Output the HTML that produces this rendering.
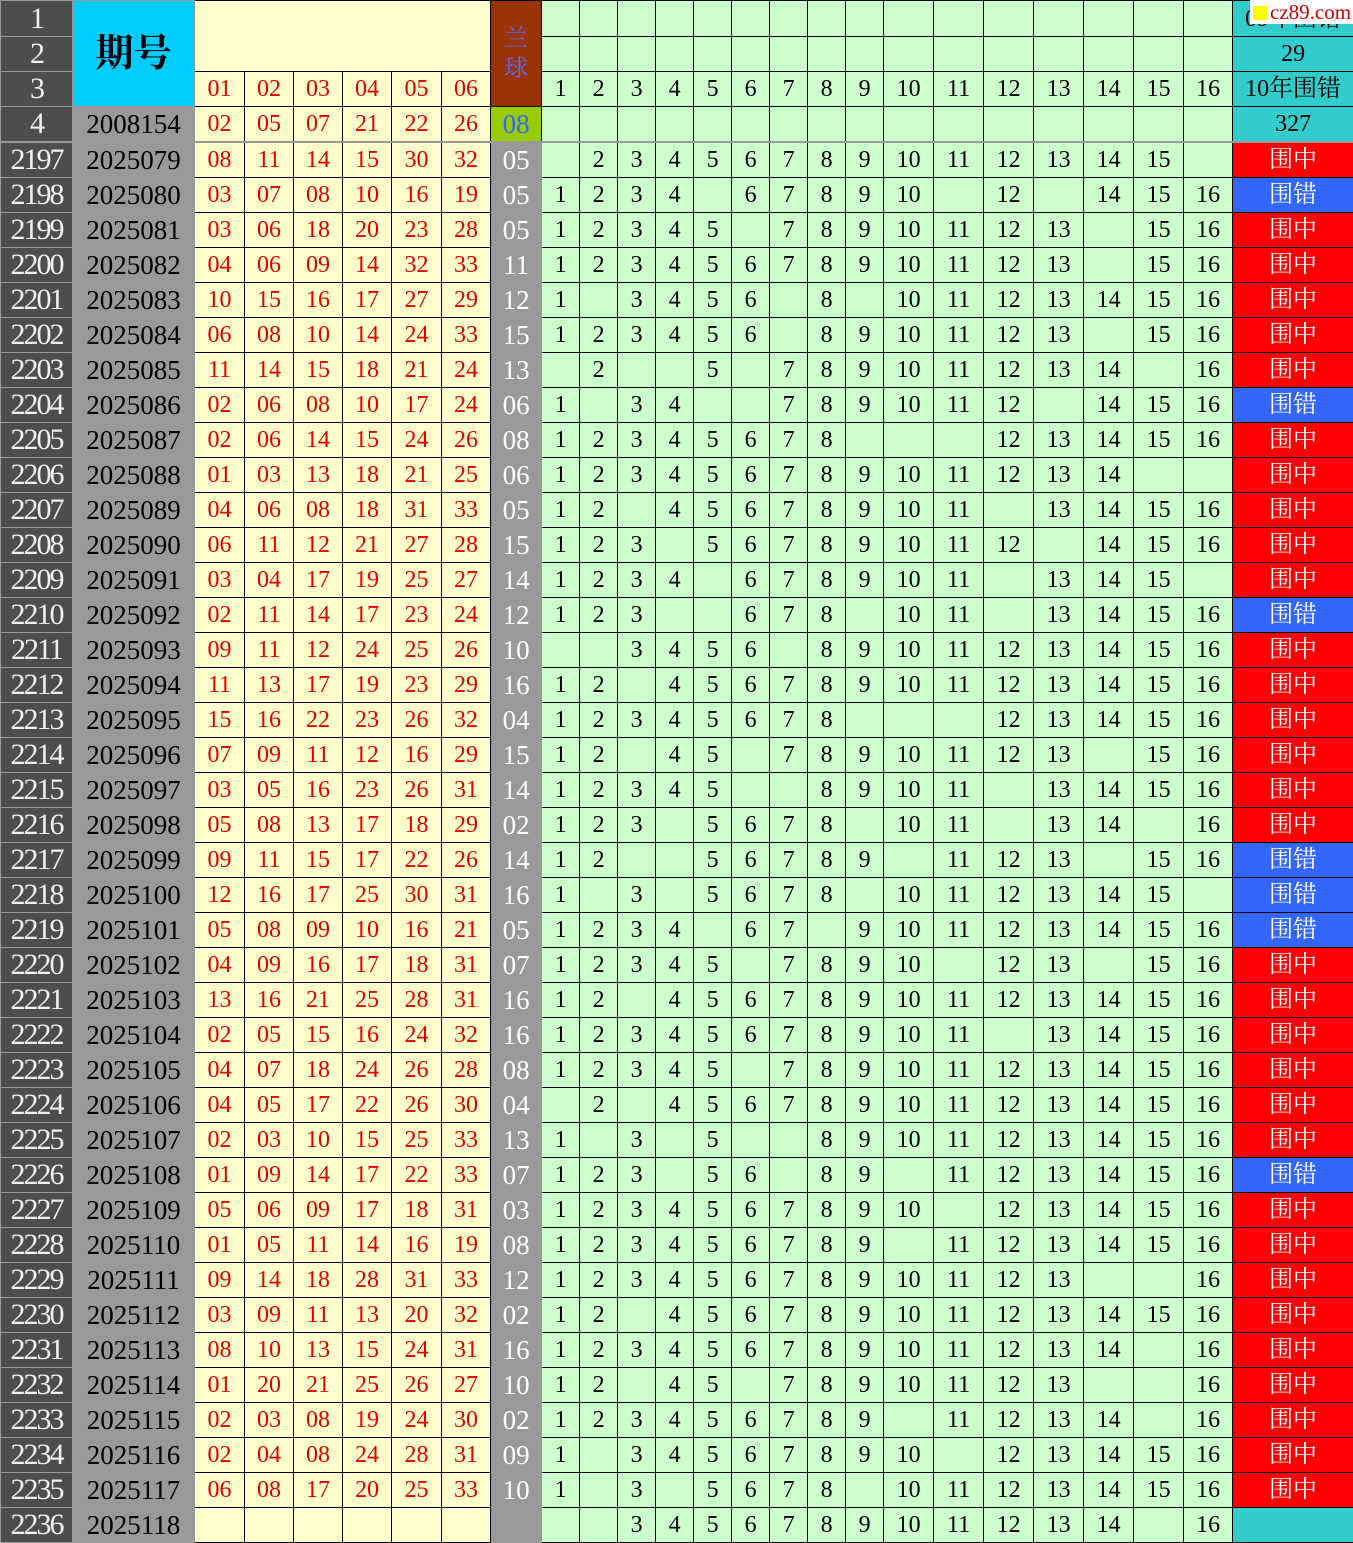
<!DOCTYPE html>
<html><head><meta charset="utf-8"><style>
body{margin:0;background:#fff;overflow:hidden;}
table{border-collapse:collapse;table-layout:fixed;width:1353px;font-family:"Liberation Serif","Noto Serif CJK SC",serif;}
td{border:1px solid #000;padding:0;text-align:center;overflow:hidden;white-space:nowrap;height:34px;line-height:34px;}
tr.h1 td{height:35px;}
.a{background:#4d4d4d;color:#f0f0f0;font-size:30px;border-color:#999;letter-spacing:-2px;}
.b{background:#999;color:#000;font-size:27px;border-color:#999;}
.r{background:#ffffcc;color:#e00000;font-size:24px;}
.g{background:#ccffcc;color:#000;font-size:24px;}
.t{background:#33cccc;color:#000;font-size:24px;}
tbody.d td:nth-child(1){background:#4d4d4d;color:#f0f0f0;font-size:30px;border-color:#999;letter-spacing:-2px;}
tbody.d td:nth-child(2){background:#999;color:#000;font-size:27px;border-color:#999;}
tbody.d td:nth-child(n+3):nth-child(-n+8){background:#ffffcc;color:#e00000;font-size:24px;}
tbody.d td:nth-child(9){background:#999;color:#fff;font-size:27px;border-color:#999;}
tbody.d td:nth-child(n+10):nth-child(-n+25){background:#ccffcc;color:#000;font-size:24px;}
tbody.d td:nth-child(26){background:#33cccc;color:#fff;font-size:24px;}
tbody.d td.z{background:#ff0000;}
tbody.d td.c{background:#3366ff;}
tbody.d tr:first-child td{border-top:2px solid #999;}
.wm{position:absolute;left:1250px;top:0;width:103px;height:24px;background:#fff;font-family:"Liberation Serif",serif;font-size:21px;line-height:24px;color:#c00;}
.wm span{display:inline-block;width:14px;height:14px;background:#ff0;margin:0 3px 0 3px;vertical-align:-1px;}
</style></head><body>
<table>
<colgroup><col style="width:72px"><col style="width:122px"><col style="width:50px"><col style="width:49px"><col style="width:49px"><col style="width:49px"><col style="width:50px"><col style="width:49px"><col style="width:51px"><col style="width:38px"><col style="width:38px"><col style="width:38px"><col style="width:38px"><col style="width:38px"><col style="width:38px"><col style="width:38px"><col style="width:38px"><col style="width:38px"><col style="width:50px"><col style="width:50px"><col style="width:50px"><col style="width:50px"><col style="width:50px"><col style="width:50px"><col style="width:49px"><col style="width:121px"></colgroup>
<tbody>
<tr class="h1"><td class="a">1</td><td rowspan="3" style="background:#00ccff;font-size:38px;font-weight:bold;border-color:#999">期号</td><td class="r" colspan="6" rowspan="2"></td><td rowspan="3" style="background:#993300;color:#6666ff;font-size:24px;line-height:30px;white-space:normal">兰<br>球</td><td class="g"></td><td class="g"></td><td class="g"></td><td class="g"></td><td class="g"></td><td class="g"></td><td class="g"></td><td class="g"></td><td class="g"></td><td class="g"></td><td class="g"></td><td class="g"></td><td class="g"></td><td class="g"></td><td class="g"></td><td class="g"></td><td class="t">09年围错</td></tr>
<tr><td class="a">2</td><td class="g"></td><td class="g"></td><td class="g"></td><td class="g"></td><td class="g"></td><td class="g"></td><td class="g"></td><td class="g"></td><td class="g"></td><td class="g"></td><td class="g"></td><td class="g"></td><td class="g"></td><td class="g"></td><td class="g"></td><td class="g"></td><td class="t">29</td></tr>
<tr><td class="a">3</td><td class="r">01</td><td class="r">02</td><td class="r">03</td><td class="r">04</td><td class="r">05</td><td class="r">06</td><td class="g">1</td><td class="g">2</td><td class="g">3</td><td class="g">4</td><td class="g">5</td><td class="g">6</td><td class="g">7</td><td class="g">8</td><td class="g">9</td><td class="g">10</td><td class="g">11</td><td class="g">12</td><td class="g">13</td><td class="g">14</td><td class="g">15</td><td class="g">16</td><td class="t">10年围错</td></tr>
<tr><td class="a">4</td><td class="b">2008154</td><td class="r">02</td><td class="r">05</td><td class="r">07</td><td class="r">21</td><td class="r">22</td><td class="r">26</td><td style="background:#99cc00;color:#3366ff;font-size:27px">08</td><td class="g"></td><td class="g"></td><td class="g"></td><td class="g"></td><td class="g"></td><td class="g"></td><td class="g"></td><td class="g"></td><td class="g"></td><td class="g"></td><td class="g"></td><td class="g"></td><td class="g"></td><td class="g"></td><td class="g"></td><td class="g"></td><td class="t">327</td></tr>
</tbody>
<tbody class="d">
<tr><td>2197<td>2025079<td>08<td>11<td>14<td>15<td>30<td>32<td>05<td><td>2<td>3<td>4<td>5<td>6<td>7<td>8<td>9<td>10<td>11<td>12<td>13<td>14<td>15<td><td class="z">围中</tr>
<tr><td>2198<td>2025080<td>03<td>07<td>08<td>10<td>16<td>19<td>05<td>1<td>2<td>3<td>4<td><td>6<td>7<td>8<td>9<td>10<td><td>12<td><td>14<td>15<td>16<td class="c">围错</tr>
<tr><td>2199<td>2025081<td>03<td>06<td>18<td>20<td>23<td>28<td>05<td>1<td>2<td>3<td>4<td>5<td><td>7<td>8<td>9<td>10<td>11<td>12<td>13<td><td>15<td>16<td class="z">围中</tr>
<tr><td>2200<td>2025082<td>04<td>06<td>09<td>14<td>32<td>33<td>11<td>1<td>2<td>3<td>4<td>5<td>6<td>7<td>8<td>9<td>10<td>11<td>12<td>13<td><td>15<td>16<td class="z">围中</tr>
<tr><td>2201<td>2025083<td>10<td>15<td>16<td>17<td>27<td>29<td>12<td>1<td><td>3<td>4<td>5<td>6<td><td>8<td><td>10<td>11<td>12<td>13<td>14<td>15<td>16<td class="z">围中</tr>
<tr><td>2202<td>2025084<td>06<td>08<td>10<td>14<td>24<td>33<td>15<td>1<td>2<td>3<td>4<td>5<td>6<td><td>8<td>9<td>10<td>11<td>12<td>13<td><td>15<td>16<td class="z">围中</tr>
<tr><td>2203<td>2025085<td>11<td>14<td>15<td>18<td>21<td>24<td>13<td><td>2<td><td><td>5<td><td>7<td>8<td>9<td>10<td>11<td>12<td>13<td>14<td><td>16<td class="z">围中</tr>
<tr><td>2204<td>2025086<td>02<td>06<td>08<td>10<td>17<td>24<td>06<td>1<td><td>3<td>4<td><td><td>7<td>8<td>9<td>10<td>11<td>12<td><td>14<td>15<td>16<td class="c">围错</tr>
<tr><td>2205<td>2025087<td>02<td>06<td>14<td>15<td>24<td>26<td>08<td>1<td>2<td>3<td>4<td>5<td>6<td>7<td>8<td><td><td><td>12<td>13<td>14<td>15<td>16<td class="z">围中</tr>
<tr><td>2206<td>2025088<td>01<td>03<td>13<td>18<td>21<td>25<td>06<td>1<td>2<td>3<td>4<td>5<td>6<td>7<td>8<td>9<td>10<td>11<td>12<td>13<td>14<td><td><td class="z">围中</tr>
<tr><td>2207<td>2025089<td>04<td>06<td>08<td>18<td>31<td>33<td>05<td>1<td>2<td><td>4<td>5<td>6<td>7<td>8<td>9<td>10<td>11<td><td>13<td>14<td>15<td>16<td class="z">围中</tr>
<tr><td>2208<td>2025090<td>06<td>11<td>12<td>21<td>27<td>28<td>15<td>1<td>2<td>3<td><td>5<td>6<td>7<td>8<td>9<td>10<td>11<td>12<td><td>14<td>15<td>16<td class="z">围中</tr>
<tr><td>2209<td>2025091<td>03<td>04<td>17<td>19<td>25<td>27<td>14<td>1<td>2<td>3<td>4<td><td>6<td>7<td>8<td>9<td>10<td>11<td><td>13<td>14<td>15<td><td class="z">围中</tr>
<tr><td>2210<td>2025092<td>02<td>11<td>14<td>17<td>23<td>24<td>12<td>1<td>2<td>3<td><td><td>6<td>7<td>8<td><td>10<td>11<td><td>13<td>14<td>15<td>16<td class="c">围错</tr>
<tr><td>2211<td>2025093<td>09<td>11<td>12<td>24<td>25<td>26<td>10<td><td><td>3<td>4<td>5<td>6<td><td>8<td>9<td>10<td>11<td>12<td>13<td>14<td>15<td>16<td class="z">围中</tr>
<tr><td>2212<td>2025094<td>11<td>13<td>17<td>19<td>23<td>29<td>16<td>1<td>2<td><td>4<td>5<td>6<td>7<td>8<td>9<td>10<td>11<td>12<td>13<td>14<td>15<td>16<td class="z">围中</tr>
<tr><td>2213<td>2025095<td>15<td>16<td>22<td>23<td>26<td>32<td>04<td>1<td>2<td>3<td>4<td>5<td>6<td>7<td>8<td><td><td><td>12<td>13<td>14<td>15<td>16<td class="z">围中</tr>
<tr><td>2214<td>2025096<td>07<td>09<td>11<td>12<td>16<td>29<td>15<td>1<td>2<td><td>4<td>5<td><td>7<td>8<td>9<td>10<td>11<td>12<td>13<td><td>15<td>16<td class="z">围中</tr>
<tr><td>2215<td>2025097<td>03<td>05<td>16<td>23<td>26<td>31<td>14<td>1<td>2<td>3<td>4<td>5<td><td><td>8<td>9<td>10<td>11<td><td>13<td>14<td>15<td>16<td class="z">围中</tr>
<tr><td>2216<td>2025098<td>05<td>08<td>13<td>17<td>18<td>29<td>02<td>1<td>2<td>3<td><td>5<td>6<td>7<td>8<td><td>10<td>11<td><td>13<td>14<td><td>16<td class="z">围中</tr>
<tr><td>2217<td>2025099<td>09<td>11<td>15<td>17<td>22<td>26<td>14<td>1<td>2<td><td><td>5<td>6<td>7<td>8<td>9<td><td>11<td>12<td>13<td><td>15<td>16<td class="c">围错</tr>
<tr><td>2218<td>2025100<td>12<td>16<td>17<td>25<td>30<td>31<td>16<td>1<td><td>3<td><td>5<td>6<td>7<td>8<td><td>10<td>11<td>12<td>13<td>14<td>15<td><td class="c">围错</tr>
<tr><td>2219<td>2025101<td>05<td>08<td>09<td>10<td>16<td>21<td>05<td>1<td>2<td>3<td>4<td><td>6<td>7<td><td>9<td>10<td>11<td>12<td>13<td>14<td>15<td>16<td class="c">围错</tr>
<tr><td>2220<td>2025102<td>04<td>09<td>16<td>17<td>18<td>31<td>07<td>1<td>2<td>3<td>4<td>5<td><td>7<td>8<td>9<td>10<td><td>12<td>13<td><td>15<td>16<td class="z">围中</tr>
<tr><td>2221<td>2025103<td>13<td>16<td>21<td>25<td>28<td>31<td>16<td>1<td>2<td><td>4<td>5<td>6<td>7<td>8<td>9<td>10<td>11<td>12<td>13<td>14<td>15<td>16<td class="z">围中</tr>
<tr><td>2222<td>2025104<td>02<td>05<td>15<td>16<td>24<td>32<td>16<td>1<td>2<td>3<td>4<td>5<td>6<td>7<td>8<td>9<td>10<td>11<td><td>13<td>14<td>15<td>16<td class="z">围中</tr>
<tr><td>2223<td>2025105<td>04<td>07<td>18<td>24<td>26<td>28<td>08<td>1<td>2<td>3<td>4<td>5<td><td>7<td>8<td>9<td>10<td>11<td>12<td>13<td>14<td>15<td>16<td class="z">围中</tr>
<tr><td>2224<td>2025106<td>04<td>05<td>17<td>22<td>26<td>30<td>04<td><td>2<td><td>4<td>5<td>6<td>7<td>8<td>9<td>10<td>11<td>12<td>13<td>14<td>15<td>16<td class="z">围中</tr>
<tr><td>2225<td>2025107<td>02<td>03<td>10<td>15<td>25<td>33<td>13<td>1<td><td>3<td><td>5<td><td><td>8<td>9<td>10<td>11<td>12<td>13<td>14<td>15<td>16<td class="z">围中</tr>
<tr><td>2226<td>2025108<td>01<td>09<td>14<td>17<td>22<td>33<td>07<td>1<td>2<td>3<td><td>5<td>6<td><td>8<td>9<td><td>11<td>12<td>13<td>14<td>15<td>16<td class="c">围错</tr>
<tr><td>2227<td>2025109<td>05<td>06<td>09<td>17<td>18<td>31<td>03<td>1<td>2<td>3<td>4<td>5<td>6<td>7<td>8<td>9<td>10<td><td>12<td>13<td>14<td>15<td>16<td class="z">围中</tr>
<tr><td>2228<td>2025110<td>01<td>05<td>11<td>14<td>16<td>19<td>08<td>1<td>2<td>3<td>4<td>5<td>6<td>7<td>8<td>9<td><td>11<td>12<td>13<td>14<td>15<td>16<td class="z">围中</tr>
<tr><td>2229<td>2025111<td>09<td>14<td>18<td>28<td>31<td>33<td>12<td>1<td>2<td>3<td>4<td>5<td>6<td>7<td>8<td>9<td>10<td>11<td>12<td>13<td><td><td>16<td class="z">围中</tr>
<tr><td>2230<td>2025112<td>03<td>09<td>11<td>13<td>20<td>32<td>02<td>1<td>2<td><td>4<td>5<td>6<td>7<td>8<td>9<td>10<td>11<td>12<td>13<td>14<td>15<td>16<td class="z">围中</tr>
<tr><td>2231<td>2025113<td>08<td>10<td>13<td>15<td>24<td>31<td>16<td>1<td>2<td>3<td>4<td>5<td>6<td>7<td>8<td>9<td>10<td>11<td>12<td>13<td>14<td><td>16<td class="z">围中</tr>
<tr><td>2232<td>2025114<td>01<td>20<td>21<td>25<td>26<td>27<td>10<td>1<td>2<td><td>4<td>5<td><td>7<td>8<td>9<td>10<td>11<td>12<td>13<td><td><td>16<td class="z">围中</tr>
<tr><td>2233<td>2025115<td>02<td>03<td>08<td>19<td>24<td>30<td>02<td>1<td>2<td>3<td>4<td>5<td>6<td>7<td>8<td>9<td><td>11<td>12<td>13<td>14<td><td>16<td class="z">围中</tr>
<tr><td>2234<td>2025116<td>02<td>04<td>08<td>24<td>28<td>31<td>09<td>1<td><td>3<td>4<td>5<td>6<td>7<td>8<td>9<td>10<td><td>12<td>13<td>14<td>15<td>16<td class="z">围中</tr>
<tr><td>2235<td>2025117<td>06<td>08<td>17<td>20<td>25<td>33<td>10<td>1<td><td>3<td><td>5<td>6<td>7<td>8<td><td>10<td>11<td>12<td>13<td>14<td>15<td>16<td class="z">围中</tr>
<tr><td>2236<td>2025118<td><td><td><td><td><td><td><td><td><td>3<td>4<td>5<td>6<td>7<td>8<td>9<td>10<td>11<td>12<td>13<td>14<td><td>16<td></tr>
</tbody>
</table>
<div class="wm"><span></span>cz89.com</div>
</body></html>
